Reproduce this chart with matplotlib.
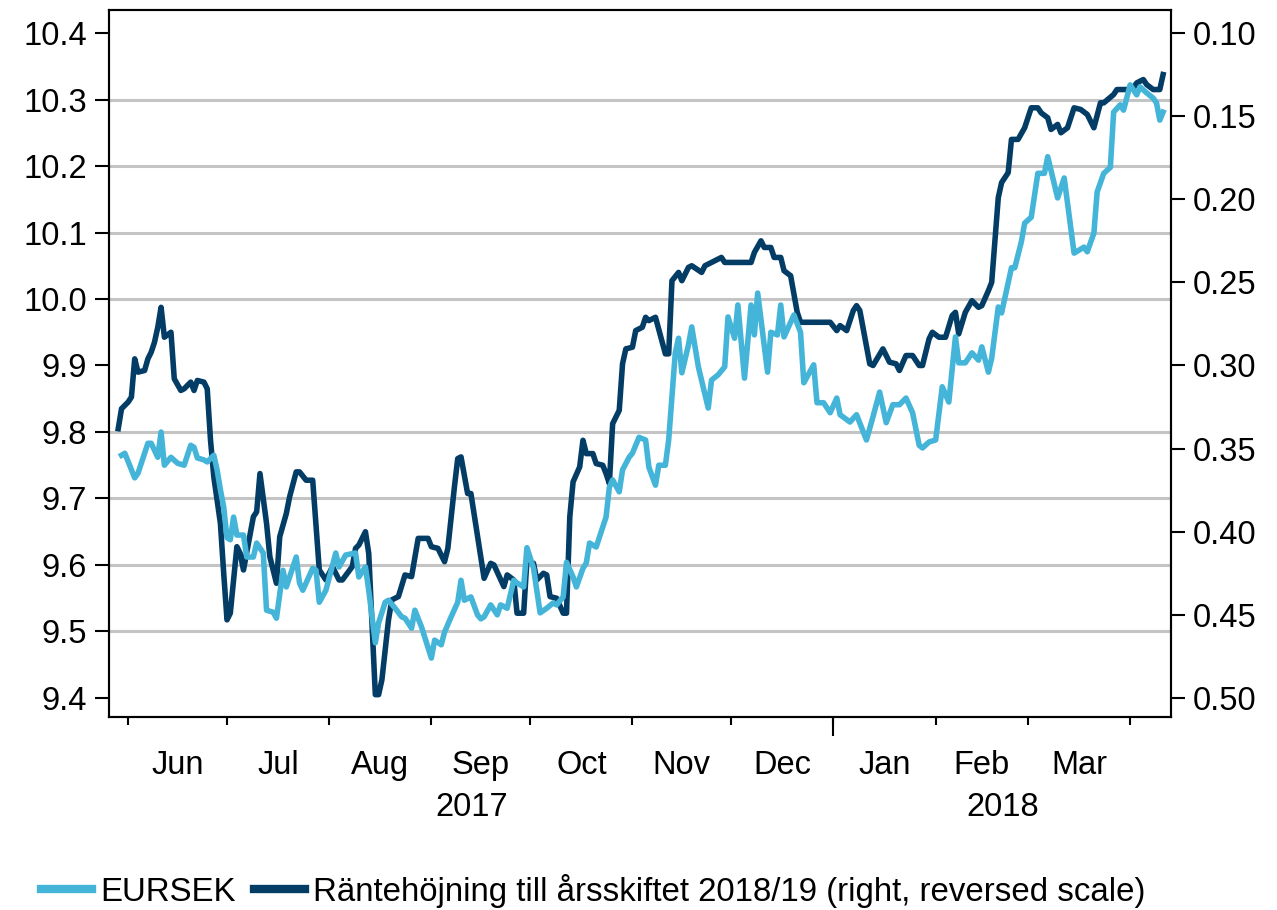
import numpy as np
import matplotlib
matplotlib.use("Agg")
import matplotlib.pyplot as plt
import matplotlib.dates as mdates

plt.rcParams['font.family'] = ['Liberation Sans', 'DejaVu Sans']

# -------------------------------
# Data (days counted from 1 June 2017)
# -------------------------------
base = np.datetime64('2017-06-01')

eursek_days = [-2, -1, 2, 3, 6, 7, 9, 10, 11, 13, 15, 17, 19, 20, 21, 23, 24, 26, 27, 28,
               29, 30, 31, 32, 33, 35, 36, 38, 39, 41, 42, 44, 45, 47, 48, 51, 52, 53, 56, 57,
               58, 60, 63, 64, 66, 69, 70, 72, 73, 75, 76, 78, 79, 81, 83, 84, 86, 87, 89, 92,
               93, 95, 96, 98, 100, 101, 102, 104, 106, 107, 108, 110, 112, 113, 115, 117, 118, 120, 121, 123,
               125, 127, 129, 130, 132, 133, 135, 136, 138, 139, 140, 142, 143, 145, 146, 147, 149, 150, 152, 153,
               155, 157, 158, 160, 161, 163, 164, 166, 167, 168, 170, 171, 173, 176, 177, 179, 181, 182, 184, 185,
               187, 189, 190, 191, 194, 195, 197, 198, 199, 202, 204, 205, 208, 209, 211, 213, 215, 216, 219, 221,
               224, 226, 228, 230, 232, 234, 236, 238, 240, 241, 243, 245, 247, 249, 251, 252, 254, 256, 258, 259,
               261, 262, 264, 265, 268, 269, 271, 272, 274, 276, 278, 279, 282, 284, 287, 290, 291, 293, 294, 296,
               298, 299, 301, 302, 304, 306, 307, 309, 311, 312, 313, 314]
eursek = [9.765, 9.768, 9.731, 9.738, 9.783, 9.783, 9.762, 9.800, 9.750, 9.762, 9.753, 9.750, 9.780, 9.777, 9.761, 9.758, 9.755, 9.765, 9.743, 9.713,
          9.687, 9.641, 9.638, 9.672, 9.645, 9.645, 9.612, 9.612, 9.633, 9.618, 9.532, 9.529, 9.520, 9.592, 9.567, 9.612, 9.573, 9.562, 9.595, 9.592,
          9.544, 9.562, 9.618, 9.597, 9.615, 9.618, 9.582, 9.597, 9.562, 9.483, 9.513, 9.544, 9.547, 9.535, 9.522, 9.520, 9.505, 9.532, 9.507, 9.460,
          9.487, 9.480, 9.499, 9.522, 9.544, 9.577, 9.547, 9.552, 9.525, 9.519, 9.522, 9.540, 9.525, 9.540, 9.535, 9.577, 9.573, 9.567, 9.626, 9.595,
          9.528, 9.535, 9.543, 9.540, 9.552, 9.604, 9.582, 9.567, 9.595, 9.603, 9.633, 9.627, 9.642, 9.672, 9.717, 9.728, 9.710, 9.743, 9.762, 9.768,
          9.792, 9.788, 9.747, 9.720, 9.750, 9.750, 9.788, 9.919, 9.941, 9.889, 9.931, 9.958, 9.898, 9.836, 9.878, 9.886, 9.898, 9.973, 9.941, 9.991,
          9.881, 9.991, 9.946, 10.009, 9.890, 9.950, 9.946, 9.991, 9.943, 9.976, 9.950, 9.874, 9.901, 9.844, 9.844, 9.829, 9.851, 9.826, 9.815, 9.826,
          9.788, 9.823, 9.860, 9.814, 9.841, 9.841, 9.851, 9.829, 9.780, 9.776, 9.785, 9.788, 9.868, 9.845, 9.943, 9.904, 9.904, 9.919, 9.908, 9.928,
          9.890, 9.911, 9.988, 9.979, 10.047, 10.047, 10.086, 10.114, 10.123, 10.189, 10.189, 10.214, 10.152, 10.182, 10.069, 10.078, 10.071, 10.099, 10.161, 10.189,
          10.198, 10.281, 10.292, 10.284, 10.322, 10.307, 10.319, 10.310, 10.302, 10.295, 10.269, 10.281]

hike_days = [-3, -2, 0, 1, 2, 3, 5, 6, 7, 8, 9, 10, 11, 13, 14, 16, 17, 19, 20, 21,
             23, 24, 25, 26, 28, 29, 30, 31, 33, 34, 35, 38, 39, 40, 42, 43, 45, 46, 48, 49,
             51, 52, 54, 56, 58, 60, 62, 64, 65, 68, 69, 70, 72, 73, 75, 76, 77, 79, 80, 82,
             84, 86, 88, 91, 92, 94, 96, 97, 99, 100, 101, 103, 104, 108, 110, 111, 114, 115, 117, 118,
             120, 121, 123, 124, 126, 127, 128, 130, 132, 133, 134, 135, 137, 138, 139, 141, 142, 144, 145, 146,
             147, 149, 150, 151, 153, 154, 156, 157, 158, 160, 163, 164, 165, 167, 168, 170, 171, 174, 175, 177,
             180, 181, 189, 190, 192, 193, 195, 196, 198, 199, 201, 203, 204, 213, 215, 216, 218, 220, 221, 222,
             225, 226, 229, 231, 233, 234, 236, 238, 240, 241, 243, 244, 246, 248, 250, 251, 252, 254, 256, 258,
             259, 261, 262, 264, 265, 267, 268, 270, 272, 274, 276, 277, 279, 280, 282, 283, 285, 287, 289, 291,
             293, 295, 296, 299, 300, 303, 305, 306, 308, 309, 311, 313, 314]
hike = [0.338, 0.326, 0.322, 0.319, 0.296, 0.304, 0.303, 0.296, 0.292, 0.286, 0.277, 0.265, 0.283, 0.280, 0.308, 0.315, 0.314, 0.310, 0.315, 0.309,
        0.310, 0.314, 0.345, 0.367, 0.395, 0.425, 0.453, 0.449, 0.409, 0.413, 0.423, 0.391, 0.388, 0.365, 0.395, 0.415, 0.431, 0.403, 0.389, 0.379,
        0.364, 0.364, 0.369, 0.369, 0.423, 0.429, 0.421, 0.429, 0.429, 0.421, 0.410, 0.408, 0.400, 0.413, 0.498, 0.498, 0.489, 0.453, 0.441, 0.439,
        0.426, 0.427, 0.404, 0.404, 0.409, 0.410, 0.418, 0.410, 0.373, 0.356, 0.355, 0.377, 0.377, 0.428, 0.419, 0.420, 0.433, 0.426, 0.429, 0.449,
        0.449, 0.417, 0.419, 0.429, 0.425, 0.426, 0.439, 0.440, 0.449, 0.449, 0.391, 0.370, 0.361, 0.345, 0.353, 0.353, 0.359, 0.360, 0.365, 0.371,
        0.335, 0.327, 0.299, 0.290, 0.289, 0.279, 0.277, 0.271, 0.273, 0.271, 0.293, 0.293, 0.249, 0.244, 0.249, 0.241, 0.240, 0.244, 0.240, 0.238,
        0.235, 0.238, 0.238, 0.232, 0.225, 0.229, 0.229, 0.235, 0.235, 0.243, 0.246, 0.268, 0.274, 0.274, 0.279, 0.276, 0.279, 0.267, 0.264, 0.267,
        0.299, 0.300, 0.290, 0.298, 0.299, 0.303, 0.294, 0.294, 0.300, 0.300, 0.284, 0.280, 0.283, 0.283, 0.270, 0.268, 0.281, 0.268, 0.261, 0.265,
        0.264, 0.255, 0.250, 0.199, 0.190, 0.184, 0.164, 0.164, 0.157, 0.145, 0.145, 0.148, 0.151, 0.158, 0.155, 0.160, 0.157, 0.145, 0.146, 0.149,
        0.157, 0.142, 0.142, 0.137, 0.134, 0.134, 0.133, 0.130, 0.128, 0.131, 0.134, 0.134, 0.125]

month_starts = ['2017-06-01', '2017-07-01', '2017-08-01', '2017-09-01', '2017-10-01', '2017-11-01',
                '2017-12-01', '2018-01-01', '2018-02-01', '2018-03-01', '2018-04-01']
month_labels = ['Jun', 'Jul', 'Aug', 'Sep', 'Oct', 'Nov', 'Dec', 'Jan', 'Feb', 'Mar']

left_ticks = [9.4, 9.5, 9.6, 9.7, 9.8, 9.9, 10.0, 10.1, 10.2, 10.3, 10.4]
right_ticks = [0.10, 0.15, 0.20, 0.25, 0.30, 0.35, 0.40, 0.45, 0.50]

light = '#44b5d8'
dark = '#033d66'
fs = 23.5

# -------------------------------
# Figure
# -------------------------------
fig = plt.figure(figsize=(12.77, 9.10), dpi=100)
ax2 = fig.add_axes([109/1277, 193/910, 1062/1277, 707/910])   # right axis, drawn underneath
ax = ax2.twinx()                                              # left axis on top
ax.yaxis.tick_left()
ax2.yaxis.tick_right()
ax.set_zorder(ax2.get_zorder() + 1)
ax.patch.set_visible(False)

x_eur = base + np.array(eursek_days).astype('timedelta64[D]')
x_hike = base + np.array(hike_days).astype('timedelta64[D]')

ax2.plot(x_hike, hike, color=dark, lw=4.0)
ax.plot(x_eur, eursek, color=light, lw=4.0)

# y scales (left and right line up: 0.1 EURSEK == 0.04 on the right)
ylo, yhi = 9.3714, 10.4346
ax.set_ylim(ylo, yhi)
ax2.set_ylim(0.10 + (10.4 - ylo) * 0.4, 0.10 + (10.4 - yhi) * 0.4)   # reversed
ax.set_yticks(left_ticks)
ax.set_yticklabels([f'{v:.1f}' for v in left_ticks])
ax2.set_yticks(right_ticks)
ax2.set_yticklabels([f'{v:.2f}' for v in right_ticks])

# grid lines at left ticks, drawn on the lower axes so lines sit above them
ax2.set_yticks([0.10 + (10.4 - v) * 0.4 for v in left_ticks], minor=True)
ax2.yaxis.grid(True, which='minor', color='#c4c4c4', lw=2.2)
ax2.tick_params(axis='y', which='minor', length=0)

# x axis
x0 = mdates.date2num(base) - 5.8
x1 = mdates.date2num(base) + 316.4
ax2.set_xlim(x0, x1)
ms = [mdates.date2num(np.datetime64(m)) for m in month_starts]
mids = [(a + b) / 2 for a, b in zip(ms[:-1], ms[1:])]
ax2.set_xticks(ms, minor=True)
ax2.set_xticks(mids)
ax2.set_xticklabels(month_labels)
ax2.tick_params(axis='x', which='major', length=0, pad=24, labelsize=fs)
ax2.tick_params(axis='x', which='minor', length=6, width=1.5)

jan1 = ms[7]
sec = ax2.secondary_xaxis('bottom')
sec.spines['bottom'].set_visible(False)
sec.set_xticks([jan1])
sec.set_xticklabels([''])
sec.set_xticks([(x0 + jan1) / 2, (jan1 + x1) / 2], minor=True)
sec.set_xticklabels(['2017', '2018'], minor=True)
sec.tick_params(axis='x', which='major', length=14, width=1.5)
sec.tick_params(axis='x', which='minor', length=0, pad=54, labelsize=fs)

ax.tick_params(axis='y', length=10, width=1.5, pad=6, labelsize=fs)
ax2.tick_params(axis='y', which='major', length=10, width=1.5, pad=6, labelsize=fs)
for a in (ax, ax2):
    for s in a.spines.values():
        s.set_linewidth(1.5)

# legend
h1, = ax.plot([], [], color=light, lw=6)
h2, = ax.plot([], [], color=dark, lw=6)
fig.legend([h1, h2], ['EURSEK', 'Räntehöjning till årsskiftet 2018/19 (right, reversed scale)'],
           loc='center left', bbox_to_anchor=(24/1277, 19/910), ncol=2, frameon=False,
           fontsize=fs + 0.3, handlelength=1.55, handletextpad=0.25, columnspacing=0.55, borderpad=0)

fig.savefig('out.png', dpi=100)
